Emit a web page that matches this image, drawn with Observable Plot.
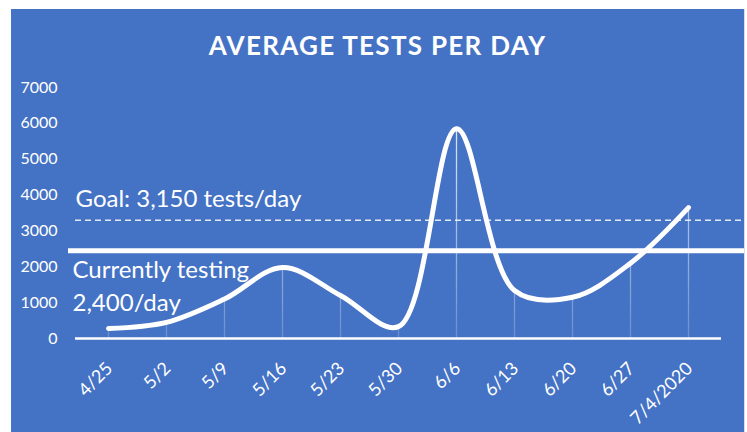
<!DOCTYPE html>
<html><head><meta charset="utf-8">
<script src="https://cdn.jsdelivr.net/npm/d3@7"></script>
<script src="https://cdn.jsdelivr.net/npm/@observablehq/plot@0.6"></script>
<style>
html,body{margin:0;padding:0;background:#fff;}
#wrap{position:relative;width:747px;height:432px;overflow:hidden;font-family:Lato,"Open Sans",sans-serif;}
#bg{position:absolute;left:11px;top:9px;width:733px;height:423px;background:#4472C4;border-right:1px solid #d9dde8;}
#title{position:absolute;left:11px;width:733px;top:30px;text-align:center;color:#fff;font-weight:700;font-size:26px;letter-spacing:1.3px;line-height:30px;}
#chart{position:absolute;left:0;top:0;}
</style></head><body>
<div id="wrap"><div id="bg"></div><div id="title">AVERAGE TESTS PER DAY</div><div id="chart"></div></div>
<script>
const weeks = ["4/25","5/2","5/9","5/16","5/23","5/30","6/6","6/13","6/20","6/27","7/4/2020"];
const tests = [280, 450, 1100, 1980, 1200, 330, 5850, 1340, 1150, 2100, 3650];
const yTicks = [0, 1000, 2000, 3000, 4000, 5000, 6000, 7000];
const goalLevel = 3300;
const goalLabel = "Goal: 3,150 tests/day";
const currentLevel = 2450;
const currentLabel = ["Currently testing", "2,400/day"];

const data = weeks.map((w, i) => ({week: w, tests: tests[i]}));
const font = "Lato, 'Open Sans', sans-serif";

const plot = Plot.plot({
  width: 747, height: 432,
  marginLeft: 75, marginRight: 26, marginTop: 87, marginBottom: 94,
  style: {background: "transparent", color: "#fff", fontFamily: font},
  x: {type: "point", domain: weeks, padding: 0.5},
  y: {domain: [0, 7000]},
  marks: [
    Plot.axisY({ticks: yTicks, tickSize: 0, tickPadding: 18, fontSize: 16, tickFormat: d3.format("d"), label: null}),
    Plot.axisX({tickSize: 0, tickRotate: -45, tickPadding: 27, dx: 1, fontSize: 18, label: null}),
    Plot.ruleX(data, {x: "week", y1: 0, y2: "tests", stroke: "url(#dropFade)", strokeWidth: 1.3}),
    Plot.ruleY([0], {stroke: "#fff", strokeWidth: 2.5}),
    Plot.ruleY([goalLevel], {stroke: "#fff", strokeOpacity: 0.85, strokeWidth: 1.5, strokeDasharray: "6,4", insetRight: -23}),
    Plot.ruleY([currentLevel], {stroke: "#fff", strokeWidth: 5, insetLeft: -7, insetRight: -23}),
    Plot.line(data, {x: "week", y: "tests", stroke: "#fff", strokeWidth: 5, curve: "catmull-rom", strokeLinecap: "round", strokeLinejoin: "round"}),
    Plot.text([goalLabel], {frameAnchor: "left", y: [goalLevel], text: d => d, textAnchor: "start", dy: -21, fontSize: 24, fill: "#fff"}),
    Plot.text([currentLabel[0]], {frameAnchor: "left", y: [currentLevel], text: d => d, textAnchor: "start", dx: -3, dy: 20, fontSize: 24, fill: "#fff"}),
    Plot.text([currentLabel[1]], {frameAnchor: "left", y: [currentLevel], text: d => d, textAnchor: "start", dx: -3, dy: 53, fontSize: 24, fill: "#fff"})
  ]
});

const defs = d3.select(plot).insert("defs", ":first-child");
const g = defs.append("linearGradient").attr("id", "dropFade")
  .attr("gradientUnits", "userSpaceOnUse")
  .attr("x1", 0).attr("y1", 87).attr("x2", 0).attr("y2", 338);
g.append("stop").attr("offset", "0%").attr("stop-color", "#fff").attr("stop-opacity", 0.95);
g.append("stop").attr("offset", "100%").attr("stop-color", "#fff").attr("stop-opacity", 0.2);

document.getElementById("chart").appendChild(plot);
</script>
</body></html>
